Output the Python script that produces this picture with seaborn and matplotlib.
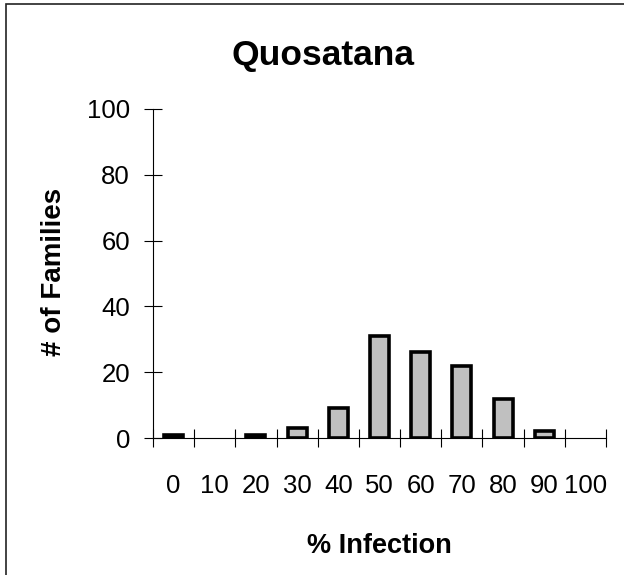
import matplotlib
matplotlib.use("Agg")
import matplotlib.pyplot as plt
import matplotlib.patches as mpatches
from matplotlib.ticker import FixedLocator
import seaborn as sns
import pandas as pd
import numpy as np

# Histogram of infection rates across families
infection_pct = ["0", "10", "20", "30", "40", "50", "60", "70", "80", "90", "100"]
n_families = [1, 0, 1, 3, 9, 31, 26, 22, 12, 2, 0]
y_ticks = [0, 20, 40, 60, 80, 100]

title = "Quosatana"
x_label = "% Infection"
y_label = "# of Families"

sns.set_theme(style="white")
plt.rcParams["font.family"] = ["Liberation Sans", "DejaVu Sans"]

df = pd.DataFrame({"pct": infection_pct, "count": n_families})

fig = plt.figure(figsize=(6.24, 5.75), dpi=100)
ax = fig.add_axes([153 / 624, 1 - 438 / 575, (606 - 153) / 624, (438 - 109) / 575])

sns.barplot(data=df, x="pct", y="count", order=infection_pct, color="#c0c0c0",
            saturation=1, edgecolor="black", linewidth=2.6, width=0.46, ax=ax)

# empty classes get no outline
for bar in ax.patches:
    if bar.get_height() == 0:
        bar.set_linewidth(0)

ax.set_xlim(-0.5, len(infection_pct) - 0.5)
ax.set_ylim(0, 100)
ax.set_yticks(y_ticks)
ax.set_yticklabels([str(v) for v in y_ticks])

# category labels without marks; divider ticks between categories
ax.set_xticks(np.arange(len(infection_pct)))
ax.set_xticklabels(infection_pct)
ax.xaxis.set_minor_locator(FixedLocator(np.arange(len(infection_pct) + 1) - 0.5))
ax.tick_params(axis="x", which="major", length=0, pad=26, labelsize=18.5, colors="black")
ax.tick_params(axis="x", which="minor", direction="inout", length=12.5, width=0.8,
               color="black", bottom=True)
ax.tick_params(axis="y", which="major", direction="inout", length=13, width=0.8,
               pad=10, labelsize=18.5, color="black", labelcolor="black", left=True)

for side in ("top", "right"):
    ax.spines[side].set_visible(False)
for side in ("left", "bottom"):
    ax.spines[side].set_color("black")
    ax.spines[side].set_linewidth(0.8)

ax.set_xlabel(x_label, fontsize=19.5, fontweight="bold", color="black", va="center")
ax.xaxis.set_label_coords(0.5, -(546 - 438) / 329)
ax.set_ylabel(y_label, fontsize=20, fontweight="bold", color="black", va="center")
ax.yaxis.set_label_coords((54 - 153) / 453, 0.505)

fig.text(323 / 624, 1 - 56 / 575, title, fontsize=25.5, fontweight="bold",
         ha="center", va="center", color="black")

# outer chart frame
frame = mpatches.Rectangle((6 / 624, -0.1), 1.2, 1.1 - 4 / 575, transform=fig.transFigure,
                           fill=False, edgecolor="#222222", linewidth=1.2, clip_on=False)
fig.patches.append(frame)

fig.savefig("out.png", dpi=100)
